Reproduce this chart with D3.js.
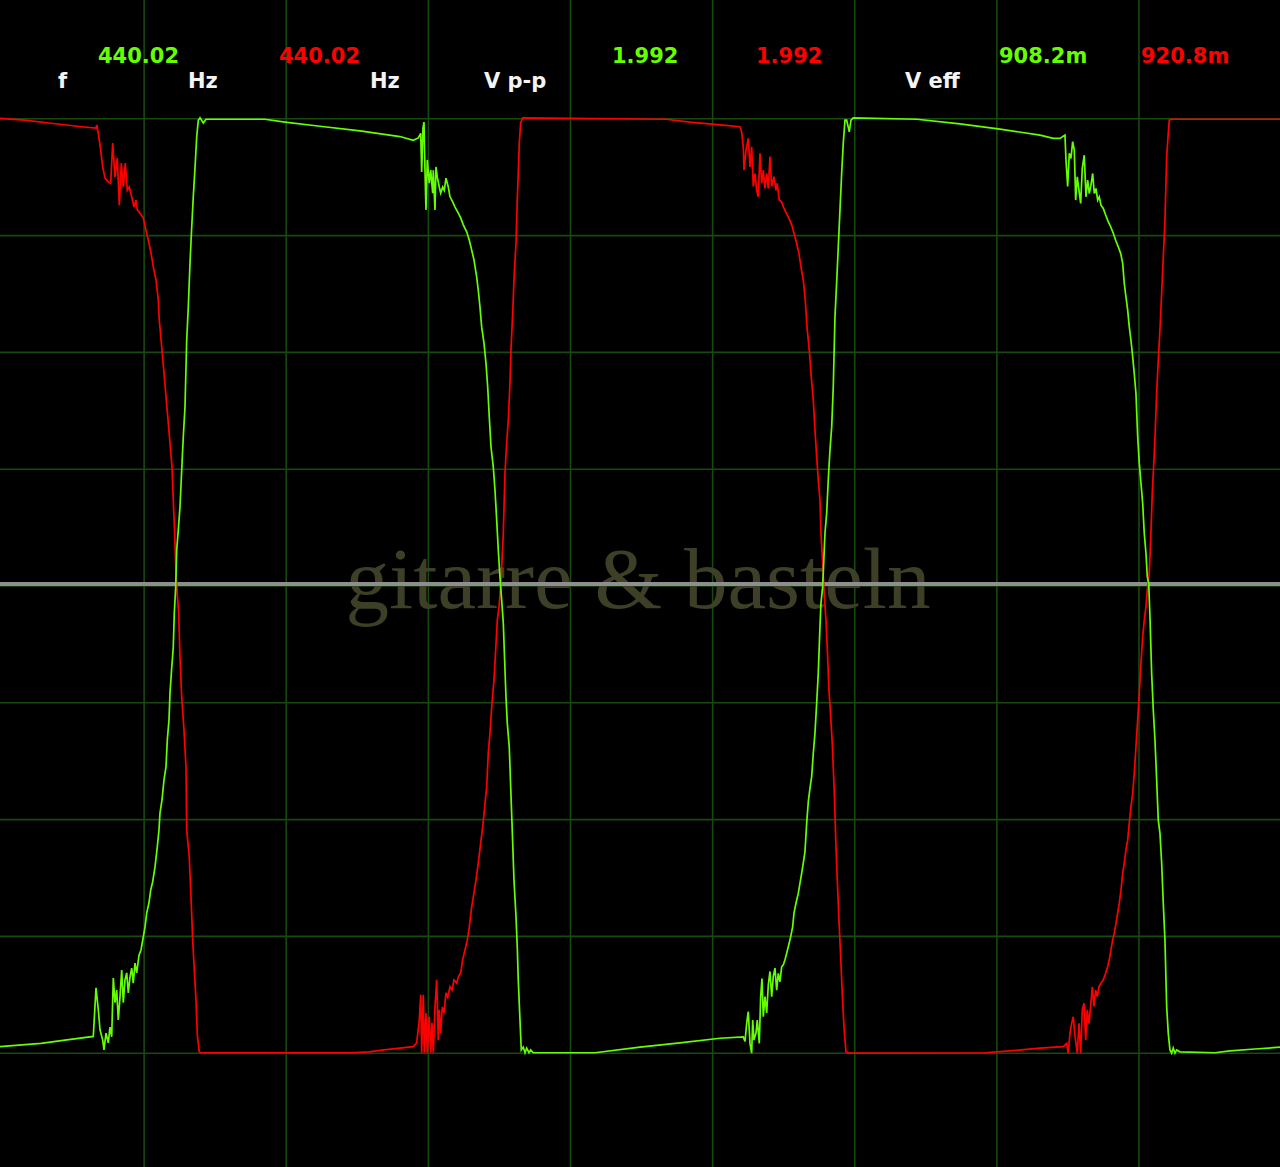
<!DOCTYPE html>
<html lang="de">
<head>
<meta charset="utf-8">
<title>gitarre &amp; basteln - Oszilloskop</title>
<script src="https://cdn.jsdelivr.net/npm/d3@7"></script>
<style>
  body { margin: 0; background: #000; }
  svg { display: block; }
</style>
</head>
<body>
<script>
// Zeitbasis in Mikrosekunden, Spannung in Millivolt (0.5 ms/div, 0.25 V/div)
const gridTimes = [500, 1000, 1500, 2000, 2500, 3000, 3500, 4000];
const gridVolts = [-1000, -750, -500, -250, 0, 250, 500, 750, 1000];

const unitLabels = ["f", "Hz", "Hz", "V p-p", "V eff"];
const greenReadings = ["440.02", "1.992", "908.2m"];
const redReadings = ["440.02", "1.992", "920.8m"];
const watermark = "gitarre & basteln";

// Kanal 1 (gruen)
const greenTime = [
  -7, 137.2, 221.6, 321.2, 330.7, 338.8, 344.8, 354.3, 358.8, 365.9,
  374.0, 379.9, 385.9, 391.6, 397.5, 403.5, 409.1, 415.1, 421.1, 426.7,
  432.7, 438.7, 444.3, 450.3, 456.3, 461.9, 467.9, 473.9, 482.0, 489.0,
  497.1, 503.1, 509.1, 517.1, 523.1, 530.2, 538.3, 546.3, 552.3, 555.8,
  562.9, 569.9, 577.0, 581.5, 587.5, 591.0, 597.0, 602.6, 606.2, 611.1,
  614.6, 620.2, 626.2, 632.2, 637.8, 643.8, 649.8, 655.4, 661.4, 667.4,
  673.0, 679.0, 685.0, 690.6, 696.6, 708.2, 717.7, 925.2, 995.6, 1118.7,
  1259.4, 1400.2, 1447.0, 1464.5, 1473.0, 1476.5, 1481.1, 1484.6, 1488.1, 1491.6,
  1496.2, 1503.2, 1508.2, 1515.2, 1517.3, 1523.3, 1526.8, 1531.4, 1538.4, 1543.3,
  1550.4, 1556.0, 1562.0, 1570.1, 1576.1, 1585.6, 1593.7, 1605.3, 1613.7, 1622.9,
  1634.8, 1644.0, 1652.4, 1660.5, 1670.0, 1675.6, 1681.6, 1687.6, 1695.7, 1702.7,
  1708.7, 1714.3, 1720.3, 1728.4, 1734.4, 1740.4, 1746.0, 1752.0, 1757.9, 1763.6,
  1773.1, 1777.6, 1784.7, 1789.6, 1794.2, 1801.2, 1808.3, 1812.8, 1816.3, 1822.3,
  1826.9, 1833.9, 1839.9, 1845.9, 1854.0, 1860.0, 1869.1, 2086.2, 2244.5, 2385.2,
  2525.9, 2607.9, 2613.9, 2619.9, 2625.5, 2631.5, 2637.4, 2641.0, 2645.5, 2652.6,
  2657.1, 2664.2, 2669.1, 2673.7, 2678.3, 2684.2, 2690.2, 2695.9, 2701.8, 2707.8,
  2713.4, 2719.4, 2725.4, 2731.0, 2737.0, 2743.0, 2748.6, 2754.6, 2760.6, 2766.2,
  2774.6, 2781.7, 2786.3, 2793.3, 2801.4, 2807.4, 2813.3, 2819.0, 2824.9, 2830.9,
  2836.6, 2842.5, 2848.5, 2854.2, 2860.1, 2866.1, 2871.7, 2877.7, 2881.2, 2887.2,
  2895.3, 2901.3, 2906.9, 2912.9, 2918.9, 2924.5, 2930.5, 2936.5, 2942.1, 2948.1,
  2954.1, 2959.7, 2965.7, 2971.7, 2980.8, 2986.8, 2994.9, 3219.0, 3370.2, 3511.0,
  3651.7, 3698.5, 3722.0, 3739.6, 3743.2, 3749.1, 3754.8, 3760.7, 3766.7, 3772.4,
  3777.3, 3782.9, 3788.9, 3794.9, 3800.5, 3807.5, 3813.5, 3819.5, 3825.1, 3831.1,
  3837.1, 3842.7, 3848.7, 3854.7, 3860.3, 3866.3, 3874.4, 3882.8, 3891.9, 3900.4,
  3909.6, 3918.0, 3927.1, 3935.6, 3942.6, 3948.2, 3954.2, 3960.2, 3965.8, 3971.8,
  3977.8, 3983.4, 3989.4, 3995.4, 4001.0, 4007.0, 4013.0, 4018.6, 4024.6, 4029.2,
  4034.1, 4038.7, 4044.6, 4050.3, 4056.3, 4062.2, 4067.9, 4073.8, 4079.8, 4085.5,
  4091.4, 4097.4, 4103.0, 4109.0, 4115.0, 4120.6, 4126.6, 4132.6, 4144.2, 4267.3,
  4320.1, 4408.1, 4500
];
const greenMv = [
  -986, -979, -972, -964, -860, -907, -950, -972, -993, -957,
  -978, -944, -965, -839, -892, -865, -929, -880, -822, -892,
  -843, -828, -871, -837, -818, -850, -807, -828, -790, -779,
  -751, -730, -700, -678, -651, -633, -601, -559, -522, -486,
  -458, -415, -387, -330, -287, -229, -176, -131, -58, -2,
  77, 120, 169, 248, 319, 383, 526, 597, 691, 768,
  833, 895, 961, 997, 1002, 991, 999, 999, 993, 984,
  974, 962, 954, 959, 969, 886, 980, 993, 890, 805,
  912, 862, 890, 841, 890, 805, 897, 875, 854, 841,
  854, 847, 873, 854, 833, 822, 811, 798, 788, 773,
  758, 740, 719, 698, 661, 633, 597, 554, 520, 477,
  426, 362, 298, 255, 205, 141, 77, 19, -30, -79,
  -238, -293, -345, -430, -507, -629, -708, -773, -843, -929,
  -993, -987, -999, -989, -999, -993, -999, -999, -987, -978,
  -968, -965, -975, -936, -911, -979, -1000, -929, -972, -957,
  -929, -979, -879, -840, -922, -879, -914, -854, -825, -879,
  -836, -818, -865, -829, -847, -815, -811, -800, -786, -772,
  -751, -729, -700, -679, -658, -636, -615, -593, -569, -508,
  -462, -433, -408, -358, -315, -251, -187, -87, -37, -2,
  113, 156, 227, 291, 340, 426, 576, 651, 726, 805,
  884, 948, 997, 997, 972, 997, 1002, 999, 989, 978,
  965, 958, 958, 965, 912, 855, 926, 915, 951, 933,
  826, 876, 847, 819, 894, 922, 833, 869, 840, 858,
  883, 840, 851, 826, 833, 815, 808, 794, 780, 769,
  755, 740, 726, 712, 691, 648, 619, 591, 555, 526,
  491, 455, 412, 320, 263, 220, 177, 113, 70, 20,
  6, -66, -187, -265, -330, -415, -501, -529, -593, -679,
  -758, -900, -957, -993, -1000, -989, -1000, -993, -997, -999,
  -995, -991, -987
];

// Kanal 2 (rot)
const redTime = [
  -7, 79.2, 179.4, 280.0, 330.7, 333.2, 338.8, 347.2, 354.3, 362.4,
  374.0, 382.4, 389.4, 397.5, 405.6, 412.7, 419.7, 426.7, 433.8, 440.8,
  447.8, 456.3, 464.4, 471.4, 476.0, 485.5, 497.1, 504.1, 514.7, 524.2,
  532.3, 541.8, 549.9, 553.4, 561.8, 569.9, 577.0, 585.0, 591.0, 598.1,
  602.6, 608.6, 612.1, 614.6, 621.6, 626.2, 632.2, 640.3, 647.3, 649.8,
  658.9, 664.9, 670.9, 676.5, 682.5, 687.1, 694.1, 699.0, 1227.8, 1291.1,
  1343.8, 1400.2, 1447.0, 1458.9, 1468.1, 1473.0, 1476.5, 1482.1, 1485.7, 1491.6,
  1496.2, 1503.2, 1508.2, 1512.7, 1517.3, 1523.3, 1529.3, 1534.9, 1538.4, 1543.3,
  1549.0, 1555.0, 1562.0, 1568.0, 1576.1, 1583.1, 1590.1, 1599.6, 1605.3, 1613.7,
  1620.7, 1628.8, 1636.9, 1644.0, 1652.4, 1660.5, 1667.5, 1675.6, 1684.1, 1691.1,
  1698.1, 1705.2, 1710.8, 1716.8, 1722.8, 1730.9, 1736.8, 1742.5, 1748.4, 1752.0,
  1757.9, 1763.6, 1769.6, 1775.5, 1781.2, 1787.1, 1790.6, 1796.6, 1802.3, 1808.3,
  1812.8, 1816.3, 1819.9, 1824.8, 1831.8, 2336.0, 2420.4, 2525.9, 2596.3, 2602.3,
  2607.9, 2610.4, 2617.4, 2625.5, 2631.5, 2637.4, 2643.1, 2649.1, 2655.0, 2660.7,
  2666.6, 2672.6, 2678.3, 2684.2, 2690.2, 2695.9, 2701.8, 2707.8, 2715.9, 2722.9,
  2727.5, 2734.5, 2743.0, 2748.6, 2757.1, 2766.2, 2778.2, 2786.3, 2795.8, 2803.8,
  2810.9, 2819.0, 2826.0, 2833.0, 2840.1, 2847.1, 2854.2, 2860.1, 2866.1, 2871.7,
  2877.7, 2881.2, 2887.2, 2891.8, 2898.8, 2903.4, 2909.4, 2915.4, 2921.0, 2928.0,
  2934.0, 2938.6, 2944.5, 2950.5, 2956.2, 2962.1, 2969.2, 2977.3, 3458.2, 3546.1,
  3651.7, 3733.7, 3745.6, 3751.2, 3757.2, 3763.2, 3768.8, 3773.8, 3778.3, 3782.9,
  3788.9, 3794.9, 3800.5, 3806.5, 3812.5, 3818.1, 3824.1, 3830.0, 3835.7, 3841.7,
  3847.6, 3853.3, 3859.2, 3866.3, 3874.4, 3882.8, 3889.9, 3895.5, 3901.5, 3907.4,
  3913.1, 3919.1, 3925.0, 3930.7, 3936.6, 3942.6, 3948.2, 3954.2, 3960.2, 3965.8,
  3971.8, 3977.8, 3983.4, 3989.4, 3995.4, 4001.0, 4007.0, 4013.0, 4018.6, 4024.6,
  4029.2, 4036.2, 4041.1, 4046.8, 4052.7, 4057.3, 4062.2, 4067.9, 4073.8, 4079.8,
  4085.5, 4091.4, 4097.4, 4103.0, 4106.6, 4115.0, 4500
];
const redMv = [
  1001, 997, 990, 983, 980, 987, 969, 933, 897, 873,
  865, 862, 948, 875, 916, 815, 905, 854, 905, 847,
  854, 833, 811, 826, 805, 798, 788, 768, 740, 713,
  683, 655, 612, 569, 512, 456, 405, 349, 306, 255,
  184, 92, 28, -2, -58, -152, -238, -308, -387, -522,
  -580, -666, -758, -822, -886, -961, -997, -999, -999, -997,
  -993, -989, -986, -978, -929, -875, -999, -875, -999, -914,
  -999, -922, -999, -935, -999, -901, -843, -972, -907, -957,
  -901, -914, -871, -880, -858, -865, -843, -850, -837, -828,
  -800, -779, -758, -730, -687, -657, -629, -593, -550, -516,
  -473, -430, -357, -315, -259, -201, -137, -73, -45, -19,
  41, 113, 242, 306, 355, 434, 505, 584, 670, 734,
  826, 884, 948, 991, 1002, 999, 993, 987, 983, 972,
  940, 890, 933, 958, 897, 940, 855, 883, 847, 833,
  926, 862, 890, 851, 883, 851, 919, 855, 876, 847,
  862, 826, 822, 812, 801, 790, 773, 755, 733, 712,
  683, 655, 612, 548, 505, 448, 398, 334, 277, 227,
  184, 113, 49, -9, -73, -133, -223, -280, -337, -440,
  -558, -629, -715, -793, -872, -943, -997, -1000, -999, -995,
  -989, -986, -979, -1000, -957, -936, -922, -957, -979, -1000,
  -936, -1000, -907, -893, -972, -907, -936, -900, -858, -900,
  -865, -879, -858, -850, -843, -829, -815, -800, -779, -758,
  -743, -722, -700, -679, -651, -615, -593, -565, -544, -508,
  -472, -444, -401, -344, -287, -230, -165, -109, -73, -44,
  -9, 28, 98, 199, 270, 334, 413, 484, 548, 627,
  704, 783, 918, 969, 997, 999, 999
];

var width = 1280;
var height = 1167;

var svg = d3.select("body")
            .append("svg")
            .attr("width", width)
            .attr("height", height)
            .style("background", "#000");

var x = d3.scaleLinear()
          .domain([0, 4500])
          .range([2, 1281.1]);

var y = d3.scaleLinear()
          .domain([-1250, 1250])
          .range([1170, 2]);

// Raster
svg.append("g")
   .selectAll("line")
   .data(gridTimes)
   .enter()
   .append("line")
   .attr("x1", d => x(d))
   .attr("x2", d => x(d))
   .attr("y1", 0)
   .attr("y2", height)
   .attr("stroke", "#174a0e")
   .attr("stroke-width", 1.6);

svg.append("g")
   .selectAll("line")
   .data(gridVolts)
   .enter()
   .append("line")
   .attr("x1", 0)
   .attr("x2", width)
   .attr("y1", d => y(d))
   .attr("y2", d => y(d))
   .attr("stroke", "#174a0e")
   .attr("stroke-width", 1.6);

// Wasserzeichen
svg.append("text")
   .attr("x", 638)
   .attr("y", 608)
   .attr("text-anchor", "middle")
   .attr("font-family", "'Liberation Serif', 'DejaVu Serif', serif")
   .attr("font-size", 86)
   .attr("textLength", 585)
   .attr("lengthAdjust", "spacingAndGlyphs")
   .attr("fill", "#3d3f27")
   .text(watermark);

// Nulllinie
svg.append("line")
   .attr("x1", 0)
   .attr("x2", width)
   .attr("y1", y(0) - 2)
   .attr("y2", y(0) - 2)
   .attr("stroke", "#8e8e8e")
   .attr("stroke-width", 4);

var line = d3.line()
             .x(d => x(d[0]))
             .y(d => y(d[1]));

svg.append("path")
   .datum(d3.zip(redTime, redMv))
   .attr("d", line)
   .attr("fill", "none")
   .attr("stroke", "#ff0000")
   .attr("stroke-width", 1.7)
   .attr("stroke-linejoin", "miter");

svg.append("path")
   .datum(d3.zip(greenTime, greenMv))
   .attr("d", line)
   .attr("fill", "none")
   .attr("stroke", "#66ff00")
   .attr("stroke-width", 1.7)
   .attr("stroke-linejoin", "miter");

// Messwerte oben
var font = "'DejaVu Sans', Verdana, sans-serif";
var unitX = [58, 188, 370, 484, 905];
var greenX = [98, 612, 999];
var redX = [279, 756, 1141];

svg.append("g")
   .selectAll("text")
   .data(unitLabels)
   .enter()
   .append("text")
   .attr("x", (d, i) => unitX[i])
   .attr("y", 88)
   .attr("font-family", font)
   .attr("font-weight", "bold")
   .attr("font-size", 21)
   .attr("fill", "#f4f4f4")
   .text(d => d);

svg.append("g")
   .selectAll("text")
   .data(greenReadings)
   .enter()
   .append("text")
   .attr("x", (d, i) => greenX[i])
   .attr("y", 63)
   .attr("font-family", font)
   .attr("font-weight", "bold")
   .attr("font-size", 21)
   .attr("fill", "#66ff00")
   .text(d => d);

svg.append("g")
   .selectAll("text")
   .data(redReadings)
   .enter()
   .append("text")
   .attr("x", (d, i) => redX[i])
   .attr("y", 63)
   .attr("font-family", font)
   .attr("font-weight", "bold")
   .attr("font-size", 21)
   .attr("fill", "#ff0000")
   .text(d => d);
</script>
</body>
</html>
